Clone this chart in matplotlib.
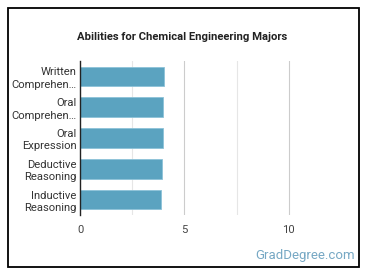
import matplotlib
matplotlib.use("Agg")
import matplotlib.pyplot as plt
from matplotlib.patches import Rectangle

categories = ["Written\nComprehen…", "Oral\nComprehen…", "Oral\nExpression",
              "Deductive\nReasoning", "Inductive\nReasoning"]
values = [4.04, 3.99, 3.99, 3.94, 3.90]
xticks = [0, 5, 10]
xtick_labels = ["0", "5", "10"]

plt.rcParams['font.family'] = ['Roboto', 'DejaVu Sans']

fig = plt.figure(figsize=(3.7, 2.78), dpi=100)
fig.patch.set_facecolor("white")
fig.add_artist(Rectangle((8/370, 1-267/278), (359-8)/370, (267-8)/278,
                         transform=fig.transFigure, fill=False,
                         edgecolor="black", linewidth=1.3))

ax = fig.add_axes([80/370, 1-215/278, (341-80)/370, (215-61)/278])
y = list(range(len(categories)))
ax.barh(y, values, height=0.63, color="#5ba3c0", edgecolor="#8cc2d8", linewidth=0.6, zorder=3)
ax.set_ylim(len(categories)-0.5, -0.5)
ax.set_xlim(0, 12.5)
ax.set_yticks(y)
ax.set_yticklabels(categories, fontsize=8.1, color="#333333", linespacing=1.3)
ax.set_xticks(xticks)
ax.set_xticklabels(xtick_labels, fontsize=8.1, color="#444444")
ax.tick_params(length=0, pad=2.5)
ax.tick_params(axis='x', pad=7)
for gx in [2.5, 7.5]:
    ax.axvline(gx, color="#e6e6e6", linewidth=0.8, zorder=1)
for gx in [5, 10]:
    ax.axvline(gx, color="#cccccc", linewidth=0.8, zorder=1)
for s in ["top", "right", "bottom"]:
    ax.spines[s].set_visible(False)
ax.spines["left"].set_color("#222222")
ax.spines["left"].set_linewidth(1.0)
ax.spines["left"].set_zorder(4)

fig.text(182/370, 1-37/278, "Abilities for Chemical Engineering Majors",
         ha="center", va="center", fontsize=8.1, fontweight="bold", color="#222222")
fig.text(355/370, 1-255/278, "GradDegree.com", ha="right", va="center",
         fontsize=9.5, color="#76a8c4")

fig.savefig("out.png", dpi=100, facecolor="white")
